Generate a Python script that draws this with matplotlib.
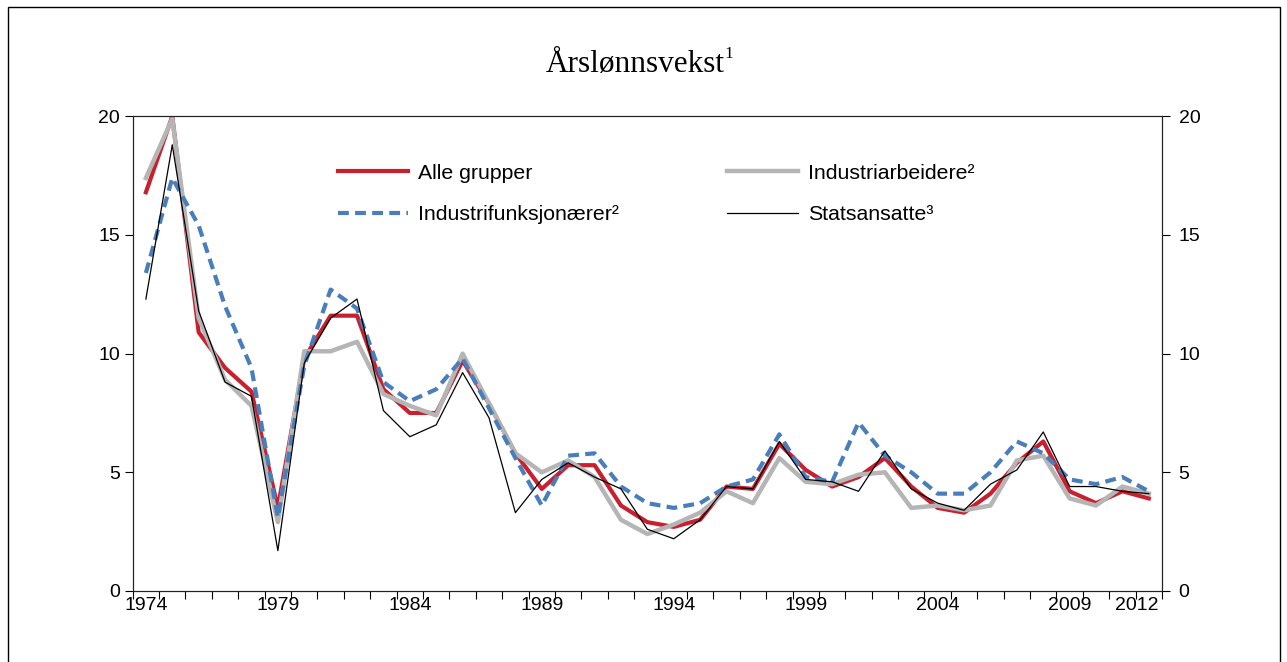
import numpy as np
import matplotlib
matplotlib.use("Agg")
import matplotlib.pyplot as plt
from matplotlib.patches import Rectangle
from matplotlib.transforms import ScaledTranslation

# Data (annual wage growth, %)
years = list(range(1974, 2013))
alle_grupper = [16.8, 20.0, 10.9, 9.4, 8.4, 3.5, 9.8, 11.6, 11.6, 8.5,
                7.5, 7.5, 9.7, 7.9, 5.8, 4.3, 5.3, 5.3, 3.6, 2.9,
                2.7, 3.0, 4.4, 4.3, 6.2, 5.1, 4.4, 4.8, 5.6, 4.4,
                3.5, 3.3, 4.1, 5.4, 6.3, 4.2, 3.7, 4.2, 3.9]
industriarbeidere = [17.4, 19.9, 11.5, 8.9, 7.8, 2.9, 10.1, 10.1, 10.5, 8.3,
                     7.8, 7.4, 10.0, 7.9, 5.8, 5.0, 5.5, 4.8, 3.0, 2.4,
                     2.8, 3.3, 4.2, 3.7, 5.6, 4.6, 4.5, 4.9, 5.0, 3.5,
                     3.6, 3.4, 3.6, 5.5, 5.7, 3.9, 3.6, 4.4, 4.1]
industrifunksjonaerer = [13.4, 17.4, 15.4, 12.0, 9.4, 3.1, 9.5, 12.7, 11.9, 8.8,
                         8.0, 8.5, 9.8, 7.7, 5.6, 3.6, 5.7, 5.8, 4.4, 3.7,
                         3.5, 3.7, 4.4, 4.7, 6.6, 4.8, 4.6, 7.1, 5.7, 5.0,
                         4.1, 4.1, 5.0, 6.3, 5.8, 4.7, 4.5, 4.8, 4.2]
statsansatte = [12.3, 18.8, 11.8, 8.8, 8.2, 1.7, 9.6, 11.5, 12.3, 7.6,
                6.5, 7.0, 9.2, 7.3, 3.3, 4.7, 5.4, 4.8, 4.3, 2.6,
                2.2, 3.0, 4.4, 4.3, 6.3, 4.7, 4.6, 4.2, 5.9, 4.3,
                3.7, 3.4, 4.5, 5.1, 6.7, 4.4, 4.4, 4.2, 4.1]
label_years = [1974, 1979, 1984, 1989, 1994, 1999, 2004, 2009, 2012]
y_ticks = [0, 5, 10, 15, 20]

plt.rcParams['font.family'] = ['Liberation Sans', 'DejaVu Sans']

fig = plt.figure(figsize=(12.87, 6.62), dpi=100)
ax = fig.add_axes([0.1031, 0.1073, 0.7998, 0.717])

x = np.arange(len(years))

# Lines
l_alle, = ax.plot(x, alle_grupper, color='#c8202f', lw=3.0, label='Alle grupper')
l_ind, = ax.plot(x, industriarbeidere, color='#b5b5b5', lw=3.2, label='Industriarbeidere²')
l_fun, = ax.plot(x, industrifunksjonaerer, color='#4a7ebb', lw=3.0,
                 dashes=(2.6, 1.5), label='Industrifunksjonærer²')
l_stat, = ax.plot(x, statsansatte, color='black', lw=0.9, label='Statsansatte³')

# Axes
ax.set_xlim(-0.5, len(years) - 0.5)
ax.set_ylim(0, 20)
ax.set_yticks(y_ticks)
ax.tick_params(axis='y', labelsize=14, direction='out', length=6, width=0.8, pad=3)

# x: ticks at category boundaries, labels at centers
ax.set_xticks(np.arange(-0.5, len(years), 1))
ax.set_xticklabels([])
ax.tick_params(axis='x', which='major', direction='out', length=6, width=0.8)
ax.set_xticks([years.index(yr) for yr in label_years], minor=True)
ax.set_xticklabels([str(yr) for yr in label_years], minor=True)
ax.tick_params(axis='x', which='minor', length=0, labelsize=14, pad=4)
# last label sits a bit to the left in the original
last = ax.get_xticklabels(minor=True)[-1]
last.set_transform(last.get_transform() + ScaledTranslation(-12/100, 0, fig.dpi_scale_trans))

# Right axis
ax2 = ax.twinx()
ax2.set_ylim(0, 20)
ax2.set_yticks(y_ticks)
ax2.tick_params(axis='y', labelsize=14, direction='out', length=6, width=0.8, pad=6)

for a in (ax, ax2):
    for s in a.spines.values():
        s.set_linewidth(0.8)
        s.set_color('#222222')

# Legend
ax.legend(handles=[l_alle, l_fun, l_ind, l_stat], ncol=2, frameon=False,
          loc='upper left', bbox_to_anchor=(0.181, 0.94),
          fontsize=15.3, handlelength=3.3, handletextpad=0.47,
          columnspacing=5.1, labelspacing=1.05)

# Title
fig.text(0.4934, 0.903, 'Årslønnsvekst', fontsize=22.5, family='Liberation Serif',
         ha='center', va='center')
fig.text(0.5662, 0.918, '1', fontsize=12.5, family='Liberation Serif',
         ha='center', va='center')

# Outer frame
fig.patches.append(Rectangle((8/1287, -0.05), 1272/1287, 1.05 - 7/662,
                             transform=fig.transFigure, fill=False,
                             edgecolor='black', lw=1.0))

fig.savefig('out.png', dpi=100)
